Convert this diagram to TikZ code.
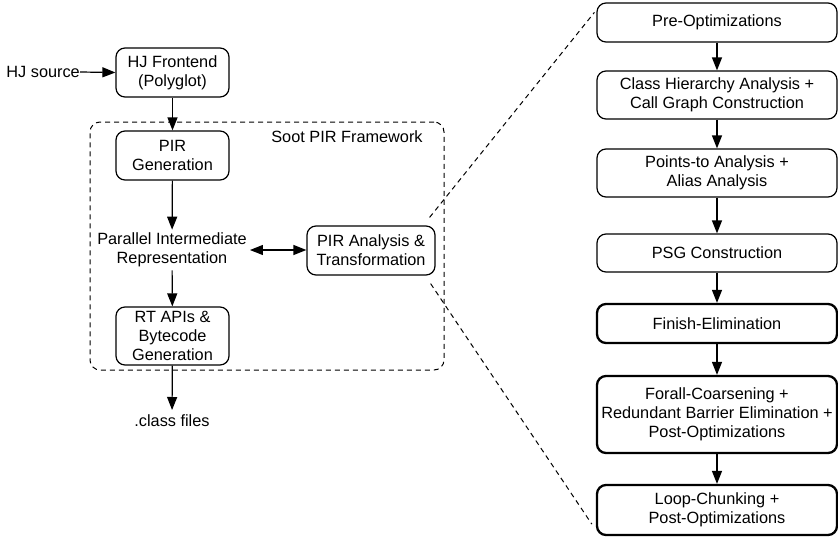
\documentclass[tikz,border=0pt]{standalone}
\usepackage{fontspec}
\setmainfont{Liberation Sans}
\usetikzlibrary{arrows.meta}
\begin{document}
\begin{tikzpicture}[x=1pt,y=-1pt,
  every node/.style={font=\fontsize{16.3}{19}\selectfont, text=black},
  box/.style={draw, rounded corners=9pt, line width=1.2pt, align=center, inner sep=0pt},
  bbox/.style={box, line width=2.3pt},
  arr/.style={-{Triangle[length=13pt,width=10pt]}, line width=1.2pt},
  dbl/.style={{Triangle[length=13pt,width=10pt]}-{Triangle[length=13pt,width=10pt]}, line width=1.2pt},
  lbl/.style={align=center, inner sep=3pt},
  dsh/.style={dash pattern=on 5pt off 4pt, line width=1pt}]
\useasboundingbox (0,0) rectangle (838,536);
\clip (0,0) rectangle (838,536);

% left part
\node[box, minimum width=113pt, minimum height=49pt] (fe) at (172.5,72.5) {HJ Frontend\\(Polyglot)};
\node[anchor=east, inner sep=0pt] (src) at (80,72) {HJ source};
\draw[arr] (src.east) -- (fe.west);

\node[draw, dsh, rounded corners=10pt, minimum width=354pt, minimum height=248pt, inner sep=0pt] (frame) at (267,246) {};
\node (soot) at (347,137) {Soot PIR Framework};

\node[box, minimum width=113pt, minimum height=49pt] (pirgen) at (172.5,155.5) {PIR\\Generation};
\draw[arr] (fe) -- (pirgen);

\node[lbl] (pir) at (172,250) {Parallel Intermediate\\Representation};
\draw[arr] (pirgen) -- (pir);

\node[box, minimum width=128pt, minimum height=49pt] (pia) at (371,250.5) {PIR Analysis \&\\Transformation};
\draw[dbl] (pir.east) -- (pir.east -| pia.west);

\node[box, minimum width=113pt, minimum height=58pt] (rt) at (172.5,336) {RT APIs \&\\Bytecode\\Generation};
\draw[arr] (pir) -- (rt);

\node[anchor=north, inner sep=4pt] (cls) at (172,410) {.class files};
\draw[arr] (rt) -- (cls);

% right part
\node[box, minimum width=240pt, minimum height=39pt] (pre) at (717,22.5) {Pre-Optimizations};
\node[box, minimum width=240pt, minimum height=48pt] (cha) at (717,95) {Class Hierarchy Analysis +\\Call Graph Construction};
\node[box, minimum width=240pt, minimum height=48pt] (pta) at (717,173) {Points-to Analysis +\\Alias Analysis};
\node[box, minimum width=240pt, minimum height=38pt] (psg) at (717,253) {PSG Construction};
\node[bbox, minimum width=240pt, minimum height=39pt] (fin) at (717,323.5) {Finish-Elimination};
\node[bbox, minimum width=240pt, minimum height=77pt] (fc) at (717,414.5) {Forall-Coarsening +\\Redundant Barrier Elimination +\\Post-Optimizations};
\node[bbox, minimum width=240pt, minimum height=50pt] (lc) at (717,510) {Loop-Chunking +\\Post-Optimizations};

\draw[arr] (pre) -- (cha);
\draw[arr] (cha) -- (pta);
\draw[arr] (pta) -- (psg);
\draw[arr] (psg) -- (fin);
\draw[arr] (fin) -- (fc);
\draw[arr] (fc) -- (lc);

% zoom lines
\draw[dsh] ([shift={(-6,-8)}]pia.north east) -- ([shift={(-2,10)}]pre.north west);
\draw[dsh] ([shift={(-5,8)}]pia.south east) -- ([shift={(-4,-12)}]lc.south west);
\end{tikzpicture}
\end{document}
